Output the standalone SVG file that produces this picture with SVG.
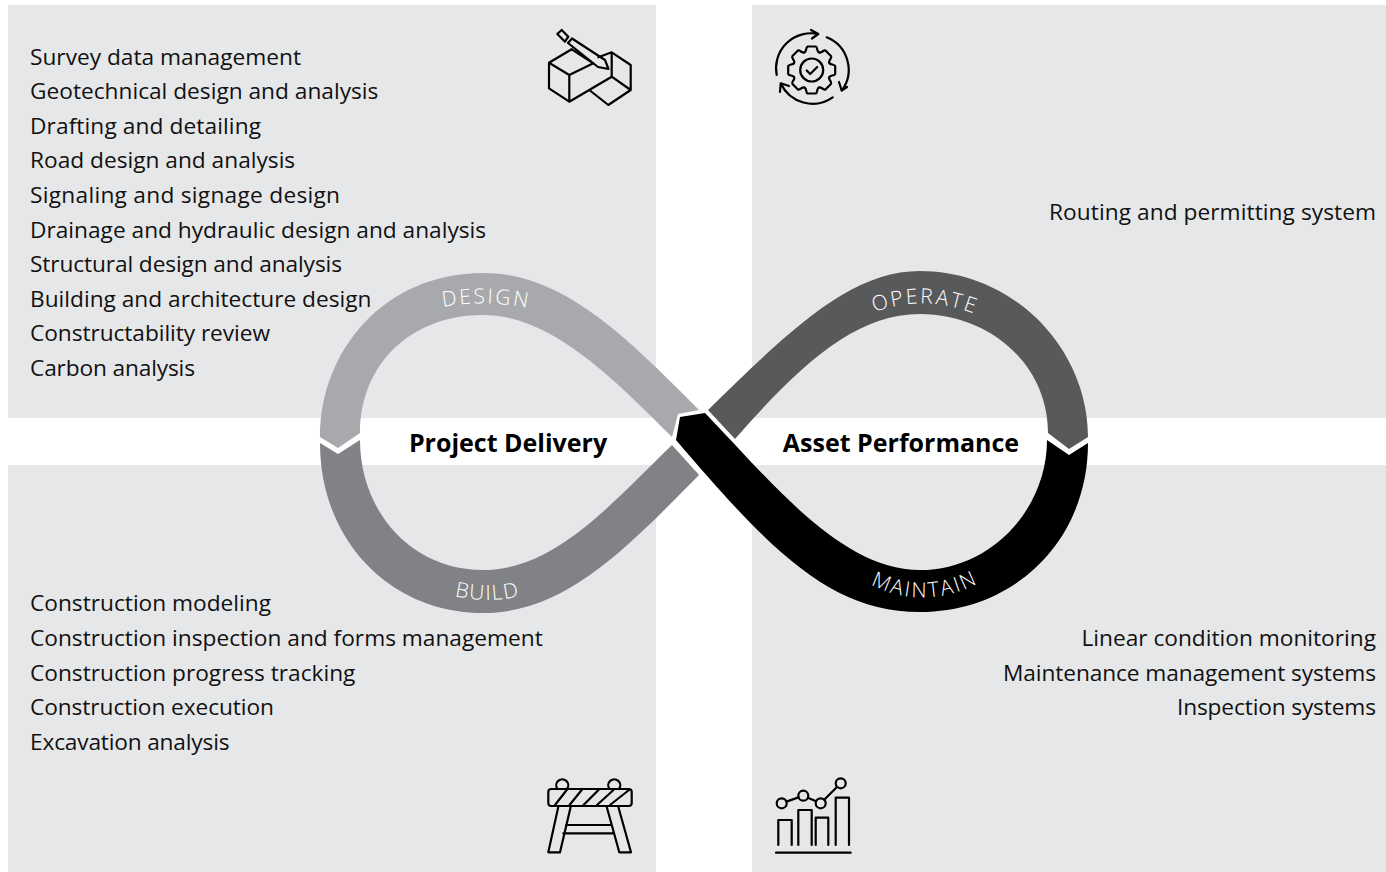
<svg xmlns="http://www.w3.org/2000/svg" xmlns:xlink="http://www.w3.org/1999/xlink" width="1386" height="872" viewBox="0 0 1386 872">
<style>
.panel{fill:#e6e7e8}
.t{font-family:"Open Sans","Noto Sans",sans-serif;font-size:22.7px;fill:#111}
.r{text-anchor:end}
.b{font-family:"Open Sans","Noto Sans",sans-serif;font-size:25px;font-weight:700;fill:#000;text-anchor:middle}
.l{font-family:"Open Sans","Noto Sans",sans-serif;font-size:21px;font-weight:300;fill:#fff;text-anchor:middle;letter-spacing:2.3px}
.i{fill:none;stroke:#000;stroke-width:2.2;stroke-linejoin:round;stroke-linecap:round}
</style>
<defs>
<path id="tooth" d="M-7.3,-17.6C-5,-18 -6,-23 -4,-23.5L4,-23.5C6,-23 5,-18 7.3,-17.6"/>
<path id="p-design" d="M420,312Q486,294 552,314"/>
<path id="p-operate" d="M850,324Q922,282 1000,326"/>
<path id="p-build" d="M430,588Q487,612 545,588"/>
<path id="p-maintain" d="M850,572Q923,624 1000,570"/>
</defs>
<rect width="1386" height="872" fill="#fff"/>
<g id="panel-design">
<rect class="panel" x="8" y="5" width="648" height="413"/>
<text class="t" x="30" y="65">Survey data management</text>
<text class="t" x="30" y="99">Geotechnical design and analysis</text>
<text class="t" x="30" y="134" textLength="231">Drafting and detailing</text>
<text class="t" x="30" y="168">Road design and analysis</text>
<text class="t" x="30" y="203" textLength="310">Signaling and signage design</text>
<text class="t" x="30" y="238">Drainage and hydraulic design and analysis</text>
<text class="t" x="30" y="272" textLength="312">Structural design and analysis</text>
<text class="t" x="30" y="307">Building and architecture design</text>
<text class="t" x="30" y="341" textLength="240">Constructability review</text>
<text class="t" x="30" y="376" textLength="165">Carbon analysis</text>
<g id="icon-design" class="i">
<path d="M549,62.7L571.7,49.3M549,62.7L569.3,75L593.3,63.3M549,62.7V88.3L569.3,101.7V75M569.3,101.7L611.7,76.7L630.7,90V65L611.7,52.3L598.3,57.3M611.7,52.3V76.7M630.7,90L608.3,105L589.3,90"/>
<path d="M568,43L572,38.5L605,60L608.5,69L598,67ZM557.3,34L561.7,30L568.3,36.7L565,41.7ZM571.7,49.3L593.3,63.3"/>
</g>
</g>
<g id="panel-operate">
<rect class="panel" x="752" y="5" width="634" height="413"/>
<text class="t r" x="1376" y="220" textLength="327">Routing and permitting system</text>
<g id="icon-operate" class="i">
<g transform="translate(811.7,70)">
<use href="#tooth"/><use href="#tooth" transform="rotate(45)"/><use href="#tooth" transform="rotate(90)"/><use href="#tooth" transform="rotate(135)"/><use href="#tooth" transform="rotate(180)"/><use href="#tooth" transform="rotate(225)"/><use href="#tooth" transform="rotate(270)"/><use href="#tooth" transform="rotate(315)"/>
<circle r="11.5"/>
<path d="M-5,0.5L-1.5,4L5.5,-3"/>
</g>
<path d="M776.7,75A35,35 0 0 1 818.3,34M811,30L818.3,34L812,38.5"/>
<path d="M826.7,37.3A35,35 0 0 1 841.7,90.7M839,82L841.7,90.7L847,87"/>
<path d="M832.7,97.3A35,35 0 0 1 780.7,83.3M780,92L780.7,83.3L789,86"/>
</g>
</g>
<g id="panel-build">
<rect class="panel" x="8" y="465" width="648" height="407"/>
<text class="t" x="30" y="611">Construction modeling</text>
<text class="t" x="30" y="646">Construction inspection and forms management</text>
<text class="t" x="30" y="681">Construction progress tracking</text>
<text class="t" x="30" y="715" textLength="244">Construction execution</text>
<text class="t" x="30" y="750" textLength="199.500">Excavation analysis</text>
<g id="icon-build" class="i">
<rect x="548.3" y="789" width="83.4" height="17" rx="3"/>
<path d="M557.5,789A6,6 0 1 1 567,789M609.5,789A6,6 0 1 1 619,789"/>
<path d="M555,805L566.7,790M569.5,805L581.7,790M583.5,805L598.5,790M597,805L613.5,790M610,805L629,790"/>
<path d="M558.3,806.7L548.3,852.3H560L570.7,806.7M606.7,806.7L619.3,852.3H631L618.3,806.7M566,825H611M563.3,833.3H613.3"/>
</g>
</g>
<g id="panel-maintain">
<rect class="panel" x="752" y="465" width="634" height="407"/>
<text class="t r" x="1376" y="646">Linear condition monitoring</text>
<text class="t r" x="1376" y="681" textLength="373">Maintenance management systems</text>
<text class="t r" x="1376" y="715" textLength="199">Inspection systems</text>
<g id="icon-maintain" class="i">
<circle cx="781.7" cy="803.3" r="5"/><circle cx="803.3" cy="795.7" r="5"/><circle cx="820.7" cy="803.3" r="5"/><circle cx="840.7" cy="783.3" r="5"/>
<path d="M786.4,801.6L798.6,797.4M807.9,797.7L816.1,801.3M824.2,799.8L837.2,786.8"/>
<path d="M778.3,845V820H791.7V845M798.3,845V810H811.7V845M815.7,845V817.7H828.3V845M835.7,845V797.7H849V845"/>
<path d="M776,852.7H850.7"/>
</g>
</g>
<g id="connectors">
<path id="seg-build" fill="#808285" d="M672,445C610,505 555,570 483,570C410,570 360,510 360,440L338,454L320,443C320,540 390,613 483,613C565,613 625,550 699,475Z"/>
<path id="seg-design" fill="#a7a9ac" d="M699,410L678,414L672,437C610,375 550,315 483,315C410,315 360,365 360,433L338,448L320,437C320,350 385,273 483,273C560,273 620,330 699,410Z"/>
<path id="seg-operate" fill="#58595b" d="M708,410C790,330 850,271 920,271C1015,271 1088,350 1088,437L1069,449L1048,433C1048,365 990,314 920,314C855,314 800,365 735,439Z"/>
<path id="seg-maintain" fill="#000" d="M680,417L705,413C770,480 840,570 920,570C990,570 1047,510 1047,440L1069,455L1088,443C1088,540 1015,612 920,612C830,612 770,550 676,440Z"/>
<text class="l"><textPath href="#p-design" startOffset="50%">DESIGN</textPath></text>
<text class="l"><textPath href="#p-operate" startOffset="50%">OPERATE</textPath></text>
<text class="l" style="letter-spacing:1.5px"><textPath href="#p-build" startOffset="50%">BUILD</textPath></text>
<text class="l"><textPath href="#p-maintain" startOffset="50%">MAINTAIN</textPath></text>
</g>
<g id="hub-project"><text class="b" x="508" y="452">Project Delivery</text></g>
<g id="hub-asset"><text class="b" x="901" y="452">Asset Performance</text></g>
</svg>
